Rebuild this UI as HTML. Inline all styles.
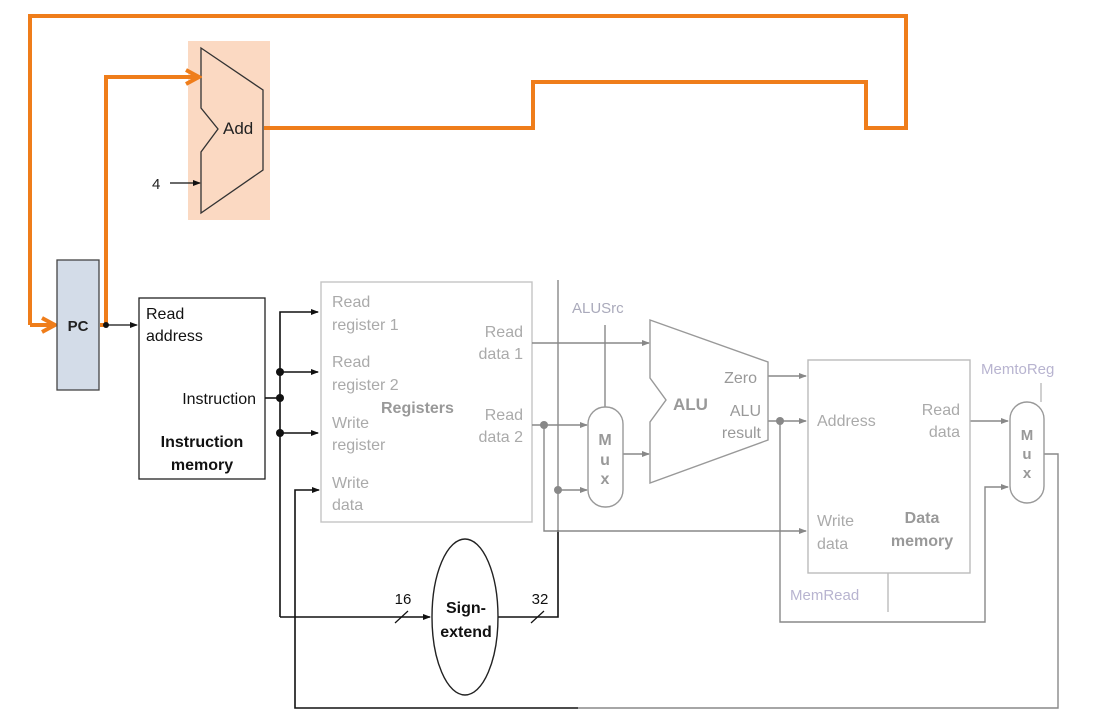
<!DOCTYPE html>
<html><head><meta charset="utf-8"><style>
html,body{margin:0;padding:0;background:#fff;width:1108px;height:725px;overflow:hidden}
svg{display:block}
text{font-family:"Liberation Sans",sans-serif}
</style></head><body>
<svg width="1108" height="725" viewBox="0 0 1108 725" xmlns="http://www.w3.org/2000/svg">
<defs>
<marker id="ab" markerWidth="8" markerHeight="8" refX="7" refY="4" orient="auto" markerUnits="userSpaceOnUse"><path d="M0,1 L8,4 L0,7 Z" fill="#111"/></marker>
<marker id="ag" markerWidth="8" markerHeight="8" refX="7" refY="4" orient="auto" markerUnits="userSpaceOnUse"><path d="M0,1 L8,4 L0,7 Z" fill="#888"/></marker>
<marker id="ao" markerWidth="18" markerHeight="18" refX="15" refY="9" orient="auto" markerUnits="userSpaceOnUse"><path d="M2,2 L15,9 L2,16" fill="none" stroke="#ef7d1a" stroke-width="4"/></marker>
</defs>

<!-- Add highlight -->
<rect x="188" y="41" width="82" height="179" fill="#fbd9c2"/>
<path d="M201,48 L263,90 L263,170 L201,213 L201,152 L218,129 L201,108 Z" fill="none" stroke="#333" stroke-width="1.3"/>
<text x="223" y="134" font-size="17" fill="#222">Add</text>
<text x="152" y="189" font-size="15" fill="#222">4</text>
<line x1="170" y1="183" x2="200" y2="183" stroke="#111" stroke-width="1.2" marker-end="url(#ab)"/>

<!-- Orange paths -->
<path d="M30,325 L30,16 L906,16 L906,128 L866,128 L866,82 L533,82 L533,128 L264,128" fill="none" stroke="#ef7d1a" stroke-width="4"/>
<line x1="30" y1="325" x2="55" y2="325" stroke="#ef7d1a" stroke-width="4" marker-end="url(#ao)"/>
<path d="M100,325 L106,325 L106,77 L199,77" fill="none" stroke="#ef7d1a" stroke-width="4" marker-end="url(#ao)"/>

<!-- PC -->
<rect x="57" y="260" width="42" height="130" fill="#d3dce8" stroke="#444" stroke-width="1.3"/>
<text x="78" y="331" font-size="15" font-weight="bold" fill="#222" text-anchor="middle">PC</text>
<circle cx="106" cy="325" r="3" fill="#111"/>
<line x1="106" y1="325" x2="137" y2="325" stroke="#111" stroke-width="1.3" marker-end="url(#ab)"/>

<!-- Instruction memory -->
<rect x="139" y="298" width="126" height="181" fill="#fff" stroke="#222" stroke-width="1.3"/>
<text x="146" y="319" font-size="16" fill="#111">Read</text>
<text x="146" y="341" font-size="16" fill="#111">address</text>
<text x="256" y="404" font-size="16" fill="#111" text-anchor="end">Instruction</text>
<text x="202" y="447" font-size="16" font-weight="bold" fill="#111" text-anchor="middle">Instruction</text>
<text x="202" y="470" font-size="16" font-weight="bold" fill="#111" text-anchor="middle">memory</text>

<!-- instruction fanout -->
<g stroke="#111" stroke-width="1.6" fill="none">
<line x1="265" y1="398" x2="280" y2="398"/>
<path d="M280,617 L280,312 L318,312" marker-end="url(#ab)"/>
<line x1="280" y1="372" x2="318" y2="372" marker-end="url(#ab)"/>
<line x1="280" y1="433" x2="318" y2="433" marker-end="url(#ab)"/>
<line x1="280" y1="617" x2="430" y2="617" marker-end="url(#ab)"/>
<path d="M318,490 L295,490 L295,708 L578,708" />
<path d="M318,490 L319,490" marker-end="url(#ab)"/>
<path d="M498,617 L558,617 L558,530"/>
</g>
<circle cx="280" cy="372" r="4" fill="#111"/>
<circle cx="280" cy="398" r="4" fill="#111"/>
<circle cx="280" cy="433" r="4" fill="#111"/>
<line x1="395" y1="623" x2="408" y2="611" stroke="#111" stroke-width="1.2"/>
<line x1="531" y1="623" x2="544" y2="611" stroke="#111" stroke-width="1.2"/>
<text x="403" y="604" font-size="15" fill="#111" text-anchor="middle">16</text>
<text x="540" y="604" font-size="15" fill="#111" text-anchor="middle">32</text>

<!-- Sign extend -->
<ellipse cx="465" cy="617" rx="33" ry="78" fill="#fff" stroke="#222" stroke-width="1.4"/>
<text x="466" y="613" font-size="16" font-weight="bold" fill="#111" text-anchor="middle">Sign-</text>
<text x="466" y="637" font-size="16" font-weight="bold" fill="#111" text-anchor="middle">extend</text>

<!-- Registers -->
<rect x="321" y="282" width="211" height="240" fill="#fff" stroke="#c4c4c4" stroke-width="1.4"/>
<g font-size="16" fill="#aaa">
<text x="332" y="307">Read</text><text x="332" y="330">register 1</text>
<text x="332" y="367">Read</text><text x="332" y="390">register 2</text>
<text x="332" y="428">Write</text><text x="332" y="450">register</text>
<text x="332" y="488">Write</text><text x="332" y="510">data</text>
<text x="523" y="337" text-anchor="end">Read</text><text x="523" y="359" text-anchor="end">data 1</text>
<text x="523" y="420" text-anchor="end">Read</text><text x="523" y="442" text-anchor="end">data 2</text>
</g>
<text x="381" y="413" font-size="16" font-weight="bold" fill="#999">Registers</text>

<!-- gray datapath -->
<g stroke="#888" stroke-width="1.4" fill="none">
<line x1="558" y1="280" x2="558" y2="530"/>
<line x1="532" y1="343" x2="649" y2="343" marker-end="url(#ag)"/>
<line x1="532" y1="425" x2="587" y2="425" marker-end="url(#ag)"/>
<path d="M544,425 L544,531 L806,531" marker-end="url(#ag)"/>
<line x1="558" y1="490" x2="587" y2="490" marker-end="url(#ag)"/>
<line x1="623" y1="454" x2="649" y2="454" marker-end="url(#ag)"/>
<line x1="605" y1="325" x2="605" y2="407"/>
<line x1="768" y1="376" x2="806" y2="376" marker-end="url(#ag)"/>
<line x1="768" y1="421" x2="806" y2="421" marker-end="url(#ag)"/>
<path d="M780,421 L780,622 L985,622 L985,487 L1008,487" marker-end="url(#ag)"/>
<line x1="970" y1="421" x2="1008" y2="421" marker-end="url(#ag)"/>
<line x1="888" y1="573" x2="888" y2="612" stroke="#bbb"/>
<line x1="1041" y1="383" x2="1041" y2="402" stroke="#bbb"/>
<path d="M1044,454 L1058,454 L1058,708 L578,708"/>
</g>
<circle cx="544" cy="425" r="4" fill="#888"/>
<circle cx="558" cy="490" r="4" fill="#888"/>
<circle cx="780" cy="421" r="4" fill="#888"/>

<!-- ALUSrc mux -->
<text x="572" y="313" font-size="15" fill="#aab">ALUSrc</text>
<rect x="588" y="407" width="35" height="100" rx="17" fill="#fff" stroke="#999" stroke-width="1.4"/>
<g font-size="16" font-weight="bold" fill="#999" text-anchor="middle">
<text x="605" y="445">M</text><text x="605" y="465">u</text><text x="605" y="484">x</text>
</g>

<!-- ALU -->
<path d="M650,320 L768,362 L768,440 L650,483 L650,422 L666,400 L650,378 Z" fill="#fff" stroke="#999" stroke-width="1.4"/>
<text x="673" y="410" font-size="17" font-weight="bold" fill="#999">ALU</text>
<g font-size="16" fill="#999" text-anchor="end">
<text x="757" y="383">Zero</text><text x="761" y="416">ALU</text><text x="761" y="438">result</text>
</g>

<!-- Data memory -->
<rect x="808" y="360" width="162" height="213" fill="#fff" stroke="#bbb" stroke-width="1.4"/>
<g font-size="16" fill="#aaa">
<text x="817" y="426">Address</text>
<text x="960" y="415" text-anchor="end">Read</text><text x="960" y="437" text-anchor="end">data</text>
<text x="817" y="526">Write</text><text x="817" y="549">data</text>
</g>
<text x="922" y="523" font-size="16" font-weight="bold" fill="#999" text-anchor="middle">Data</text>
<text x="922" y="546" font-size="16" font-weight="bold" fill="#999" text-anchor="middle">memory</text>
<text x="790" y="600" font-size="15" fill="#b8b4d0">MemRead</text>

<!-- MemtoReg mux -->
<text x="981" y="374" font-size="15" fill="#b8b4d0">MemtoReg</text>
<rect x="1010" y="402" width="34" height="101" rx="17" fill="#fff" stroke="#999" stroke-width="1.4"/>
<g font-size="15" font-weight="bold" fill="#999" text-anchor="middle">
<text x="1027" y="440">M</text><text x="1027" y="459">u</text><text x="1027" y="478">x</text>
</g>
</svg>
</body></html>
